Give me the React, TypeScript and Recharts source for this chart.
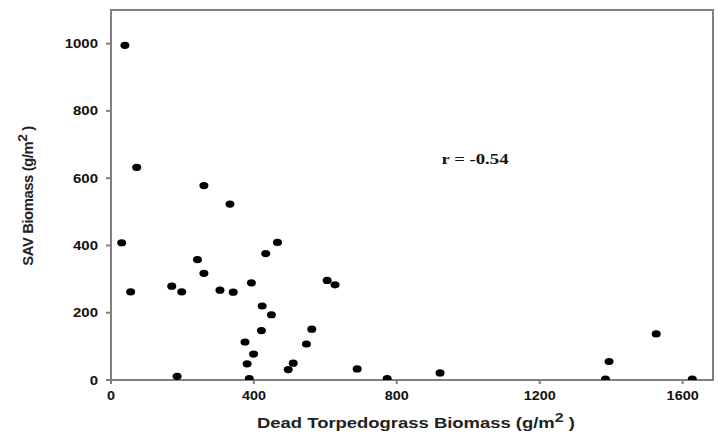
import React from 'react';
import { ScatterChart, Scatter, XAxis, YAxis, ReferenceArea, Label } from 'recharts';

const deadBiomass = [39, 72, 30, 55, 170, 198, 185, 242, 260, 260, 305, 342, 333, 393, 375, 381, 387, 399, 423, 421, 449, 433, 466, 496, 510, 547, 562, 605, 627, 689, 773, 921, 1384, 1394, 1526, 1627];
const savBiomass = [995, 632, 408, 262, 279, 262, 11, 358, 578, 317, 267, 261, 523, 289, 113, 48, 4, 77, 220, 147, 194, 376, 409, 31, 50, 107, 151, 296, 283, 33, 4, 21, 3, 55, 137, 3];
const xTicks = [0, 400, 800, 1200, 1600];
const yTicks = [0, 200, 400, 600, 800, 1000];
const rLabel = 'r = -0.54';

const data = deadBiomass.map((x, i) => ({ x, y: savBiomass[i] }));

const axisColor = '#808080';
const sans = 'Arial, "Liberation Sans", sans-serif';

const Dot = (props: any) => {
  const { cx, cy } = props;
  return <ellipse cx={cx} cy={cy} rx={4.5} ry={3.6} fill="#000" />;
};

const XTick = (props: any) => {
  const { x, payload } = props;
  return (
    <text transform={`translate(${x},400) scale(1.2,1)`} textAnchor="middle" fontFamily={sans} fontWeight={700} fontSize={12} fill="#111">
      {payload.value}
    </text>
  );
};

const YTick = (props: any) => {
  const { y, payload } = props;
  return (
    <text transform={`translate(98,${y + 4.5}) scale(1.2,1)`} textAnchor="end" fontFamily={sans} fontWeight={700} fontSize={12.5} fill="#111">
      {payload.value}
    </text>
  );
};

const XLabel = () => (
  <text transform="translate(416,428) scale(1.23,1)" textAnchor="middle" fontFamily={sans} fontWeight={700} fontSize={15} fill="#222">
    Dead Torpedograss Biomass (g/m<tspan dy={-6} fontSize={13}>2</tspan><tspan dy={6}> )</tspan>
  </text>
);

const YLabel = () => (
  <text transform="translate(33,196) rotate(-90) scale(1.06,1)" textAnchor="middle" fontFamily={sans} fontWeight={700} fontSize={14} letterSpacing={-0.4} fill="#222">
    SAV Biomass (g/m<tspan dy={-6} fontSize={13}>2</tspan><tspan dy={6}> )</tspan>
  </text>
);

export default function App() {
  return (
    <div style={{ position: 'absolute', left: 0, top: 0, background: '#fff' }}>
      <ScatterChart width={718} height={437} margin={{ top: 10, right: 5, bottom: 27, left: 0 }}>
        <XAxis
          type="number"
          dataKey="x"
          domain={[0, 1685]}
          ticks={xTicks}
          allowDataOverflow
          height={30}
          stroke={axisColor}
          strokeWidth={2}
          tickSize={4}
          tick={<XTick />}
          tickLine={{ stroke: axisColor }}
        >
          <Label content={<XLabel />} />
        </XAxis>
        <YAxis
          type="number"
          dataKey="y"
          domain={[0, 1100]}
          ticks={yTicks}
          allowDataOverflow
          width={111}
          stroke={axisColor}
          strokeWidth={2}
          tickSize={5}
          tick={<YTick />}
          tickLine={{ stroke: axisColor }}
        >
          <Label content={<YLabel />} />
        </YAxis>
        <ReferenceArea x1={0} x2={1685} y1={0} y2={1100} fill="none" stroke={axisColor} strokeWidth={2} ifOverflow="visible" />
        <Scatter data={data} shape={<Dot />} isAnimationActive={false} />
        <text transform="translate(475,163.5) scale(1.25,1)" textAnchor="middle" fontFamily={'"Liberation Serif", "DejaVu Serif", serif'} fontWeight={700} fontSize={15} fill="#111">{rLabel}</text>
      </ScatterChart>
    </div>
  );
}
